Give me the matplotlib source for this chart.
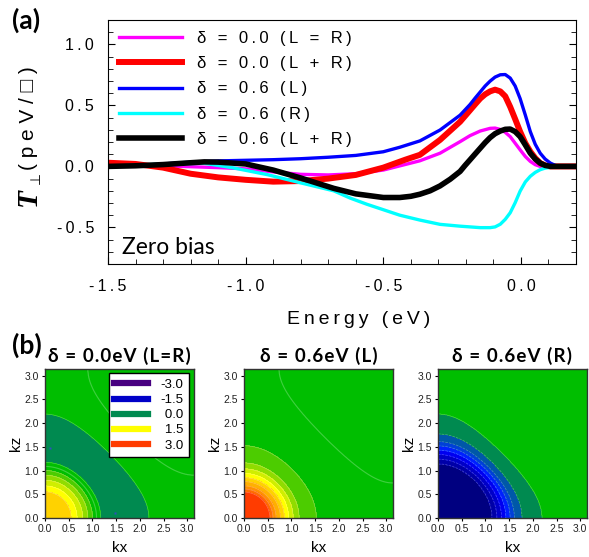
import numpy as np
import matplotlib.pyplot as plt
from matplotlib.lines import Line2D
from matplotlib.colors import ListedColormap, BoundaryNorm
from matplotlib.ticker import MultipleLocator

plt.rcParams['font.family'] = ['Liberation Sans', 'DejaVu Sans']

# ---- panel (a): spin-transfer torque vs energy
mag_x = [-1.5, -1.3, -1.1, -1.0, -0.9, -0.8, -0.7, -0.6, -0.5, -0.367, -0.294, -0.221,
         -0.185, -0.148, -0.112, -0.094, -0.075, -0.057, -0.039, -0.021, -0.003, 0.016,
         0.034, 0.052, 0.070, 0.2]
mag_y = [0.01, 0.005, -0.01, -0.02, -0.045, -0.065, -0.07, -0.06, -0.03, 0.046, 0.108, 0.203,
         0.252, 0.290, 0.312, 0.314, 0.303, 0.279, 0.244, 0.190, 0.136, 0.081,
         0.041, 0.014, 0.0, 0.0]

red_x = [-1.5, -1.4, -1.3, -1.2, -1.1, -1.0, -0.9, -0.8, -0.7, -0.6, -0.5, -0.42, -0.367,
         -0.294, -0.221, -0.185, -0.166, -0.148, -0.130, -0.112, -0.094, -0.075, -0.057,
         -0.039, -0.021, -0.003, 0.016, 0.034, 0.052, 0.070, 0.088, 0.107, 0.2]
red_y = [0.03, 0.02, -0.01, -0.06, -0.09, -0.11, -0.125, -0.12, -0.1, -0.07, -0.01, 0.055, 0.095,
         0.217, 0.366, 0.46, 0.51, 0.556, 0.591, 0.615, 0.629, 0.615, 0.575,
         0.488, 0.388, 0.285, 0.19, 0.122, 0.068, 0.027, 0.008, 0.0, 0.0]

blue_x = [-1.5, -1.4, -1.3, -1.2, -1.1, -1.0, -0.9, -0.8, -0.7, -0.6, -0.5, -0.44, -0.367,
          -0.294, -0.221, -0.185, -0.166, -0.148, -0.130, -0.112, -0.094, -0.075, -0.057,
          -0.039, -0.021, -0.003, 0.016, 0.034, 0.052, 0.070, 0.088, 0.107, 0.125, 0.143, 0.2]
blue_y = [0.0, 0.005, 0.02, 0.035, 0.045, 0.05, 0.055, 0.063, 0.075, 0.09, 0.12, 0.157, 0.209,
          0.298, 0.42, 0.507, 0.561, 0.610, 0.659, 0.699, 0.732, 0.751, 0.753,
          0.724, 0.659, 0.556, 0.42, 0.285, 0.181, 0.108, 0.060, 0.027, 0.008, 0.0, 0.0]

cyan_x = [-1.5, -1.3, -1.15, -1.05, -0.92, -0.8, -0.68, -0.62, -0.56, -0.44, -0.367, -0.294,
          -0.221, -0.148, -0.112, -0.094, -0.075, -0.057, -0.039, -0.021, -0.003, 0.016,
          0.034, 0.052, 0.070, 0.088, 0.107, 0.143, 0.2]
cyan_y = [0.0, 0.02, 0.025, -0.01, -0.068, -0.135, -0.2, -0.26, -0.31, -0.40, -0.44, -0.475,
          -0.49, -0.502, -0.502, -0.496, -0.474, -0.434, -0.38, -0.298, -0.203, -0.127,
          -0.081, -0.049, -0.027, -0.014, -0.008, 0.0, 0.0]

blk_x = [-1.5, -1.4, -1.3, -1.2, -1.15, -1.1, -1.0, -0.9, -0.8, -0.68, -0.6, -0.5, -0.44,
         -0.40, -0.367, -0.33, -0.294, -0.257, -0.221, -0.203, -0.185, -0.166, -0.148,
         -0.130, -0.112, -0.094, -0.075, -0.057, -0.039, -0.021, -0.003, 0.016, 0.034,
         0.052, 0.070, 0.088, 0.107, 0.2]
blk_y = [0.0, 0.005, 0.015, 0.03, 0.037, 0.035, 0.02, -0.03, -0.095, -0.18, -0.225, -0.255,
         -0.255, -0.245, -0.228, -0.2, -0.16, -0.105, -0.041, 0.008, 0.054, 0.103, 0.149,
         0.195, 0.236, 0.268, 0.290, 0.304, 0.306, 0.285, 0.244, 0.176, 0.108,
         0.060, 0.027, 0.008, 0.0, 0.0]

labels_a = ['δ = 0.0 (L = R)', 'δ = 0.0 (L + R)', 'δ = 0.6 (L)', 'δ = 0.6 (R)', 'δ = 0.6 (L + R)']

# ---- panel (b): torque maps; value vs s = cos kx + cos kz (band edges read along the axes)
p1_s = [-2.0, -0.38, 0.42, 0.90, 1.39, 1.54, 1.62, 1.70, 1.78, 1.85, 2.0]
p1_v = [0.40, 0.30, 0.15, 0.00, 0.15, 0.45, 0.75, 1.05, 1.35, 1.65, 1.75]
p2_s = [-2.0, -0.26, 1.05, 1.40, 1.51, 1.59, 1.66, 1.72, 1.78, 1.82, 1.853, 2.0]
p2_v = [0.20, 0.30, 0.45, 0.75, 1.05, 1.35, 1.65, 1.95, 2.25, 2.55, 2.85, 3.0]
p3_s = [-2.0, 0.421, 0.61, 0.802, 0.961, 1.051, 1.140, 1.229, 1.324, 1.416, 2.0]
p3_v = [0.25, 0.15, 0.0, -0.15, -0.45, -0.75, -1.05, -1.35, -1.65, -1.95, -2.1]
p1_dot_kx = [0.1, 1.47]
p1_dot_kz = [1.47, 0.1]
titles_b = ['δ = 0.0eV (L=R)', 'δ = 0.6eV (L)', 'δ = 0.6eV (R)']

bin_centers = np.round(np.arange(-3.0, 3.01, 0.3), 2)
bin_colors = ['#480080', '#380080', '#200080', '#000080', '#0000A8', '#0000C8', '#0000F0',
              '#0020FF', '#0040D8', '#0058A8', '#008A50', '#00BE00', '#4CCC00', '#90DC00',
              '#D0EE00', '#FFFF00', '#FFD200', '#FFB000', '#FF9000', '#FF6C00', '#FF3C00']
legend_vals = [-3.0, -1.5, 0.0, 1.5, 3.0]


def spaced(s, gap='\u2009'):
    return gap.join(s)


fig = plt.figure(figsize=(5.89, 5.57), dpi=100)

ax = fig.add_axes([108 / 589, 1 - 264 / 557, 468 / 589, 244 / 557])
ax.plot(mag_x, mag_y, color='#FF00FF', lw=2.4, label=spaced(labels_a[0]))
ax.plot(red_x, red_y, color='#FF0000', lw=4.3, label=spaced(labels_a[1]))
ax.plot(blue_x, blue_y, color='#0000FF', lw=2.4, label=spaced(labels_a[2]))
ax.plot(cyan_x, cyan_y, color='#00FFFF', lw=2.4, label=spaced(labels_a[3]))
ax.plot(blk_x, blk_y, color='black', lw=4.0, label=spaced(labels_a[4]))
ax.set_xlim(-1.5, 0.2)
ax.set_ylim(-0.8, 1.2)
xt = [-1.5, -1.0, -0.5, 0.0]
yt = [-0.5, 0.0, 0.5, 1.0]
ax.set_xticks(xt, [spaced('%.1f' % v) for v in xt])
ax.set_yticks(yt, [spaced('%.1f' % v) for v in yt])
ax.xaxis.set_minor_locator(MultipleLocator(0.1))
ax.yaxis.set_minor_locator(MultipleLocator(0.1))
ax.tick_params(which='both', direction='in', right=True, top=False, labelsize=11.5)
ax.tick_params(axis='x', which='major', length=5, pad=11)
ax.tick_params(axis='y', which='major', length=5, pad=10)
ax.tick_params(which='minor', length=3.5)
ax.set_xlabel(spaced('Energy (eV)'), fontsize=14, labelpad=12)
ax.xaxis.label.set_x(0.535)
ax.legend(loc='upper left', bbox_to_anchor=(0.0, 1.0), frameon=False, fontsize=12,
          handlelength=3.8, handletextpad=0.9, labelspacing=0.62, borderaxespad=0.25)
ax.text(0.03, 0.04, 'Zero bias', transform=ax.transAxes, fontsize=16.5, family='Lato')

fig.text(28 / 589, 1 - 197 / 557, 'T', rotation=90, ha='center', va='center',
         family='Liberation Serif', style='italic', weight='bold', fontsize=21)
fig.text(36 / 589, 1 - 178 / 557, '⊥', rotation=90, ha='center', va='center', fontsize=10,
         family='DejaVu Sans')
fig.text(29 / 589, 1 - 118 / 557, '( p e V / □ )', rotation=90, ha='center', va='center',
         fontsize=15)
fig.text(12 / 589, 1 - 20 / 557, '(a)', fontsize=19, weight='bold', family='Lato',
         ha='left', va='center')
fig.text(12 / 589, 1 - 345 / 557, '(b)', fontsize=19, weight='bold', family='Lato',
         ha='left', va='center')

# ---- bottom maps
k = np.linspace(0, np.pi, 300)
KX, KZ = np.meshgrid(k, k)
S = np.cos(KX) + np.cos(KZ)
edges = np.round(np.arange(-3.15, 3.16, 0.3), 2)
cmap = ListedColormap(bin_colors)
norm = BoundaryNorm(edges, cmap.N)

profiles = [(p1_s, p1_v, 0.3), (p2_s, p2_v, 0.3), (p3_s, p3_v, None)]
lefts = [45, 244, 438]
for i, (ps, pv, line_lev) in enumerate(profiles):
    bx = fig.add_axes([lefts[i] / 589, 1 - 518 / 557, 149 / 589, 149 / 557])
    Z = np.interp(S, ps, pv)
    bx.contourf(KX, KZ, Z, levels=edges, cmap=cmap, norm=norm)
    bx.contour(KX, KZ, Z, levels=edges, colors='white', alpha=0.3, linewidths=0.5)
    if line_lev is not None:
        bx.contour(KX, KZ, Z, levels=[line_lev], colors='#40D040', linewidths=0.8)
    if i == 0:
        bx.plot(p1_dot_kx, p1_dot_kz, 's', ms=2, color='#3050C0', mec='none')
        handles = [Line2D([], [], color=bin_colors[list(bin_centers).index(v)], lw=4.5)
                   for v in legend_vals]
        names = ['%.1f' % v if v < 0 else '\u2006\u2009%.1f' % v for v in legend_vals]
        lg = bx.legend(handles, names, loc='upper right', bbox_to_anchor=(0.965, 0.97),
                       fontsize=9.5, frameon=True, fancybox=False, edgecolor='black',
                       facecolor='white', framealpha=1.0, borderaxespad=0.0,
                       handlelength=2.6, handletextpad=0.9, labelspacing=0.22,
                       borderpad=0.4)
        lg.get_frame().set_linewidth(1.0)
    bx.set_xlim(0, np.pi)
    bx.set_ylim(0, np.pi)
    ticks = np.arange(0, 3.01, 0.5)
    bx.set_xticks(ticks, ['%.1f' % v for v in ticks])
    bx.set_yticks(ticks, ['%.1f' % v for v in ticks])
    bx.tick_params(direction='out', length=2.5, labelsize=7.5, pad=2, labelcolor='#222222')
    bx.set_xlabel('kx', fontsize=11, labelpad=5)
    bx.set_ylabel('kz', fontsize=11, labelpad=1)
    bx.set_title(spaced(titles_b[i], '\u200a'), fontsize=13.5, weight='bold',
                 family=['Lato', 'DejaVu Sans'], pad=5)
    for sp in bx.spines.values():
        sp.set_linewidth(1.0)
        sp.set_color('#333333')

fig.savefig('out.png', dpi=100)
